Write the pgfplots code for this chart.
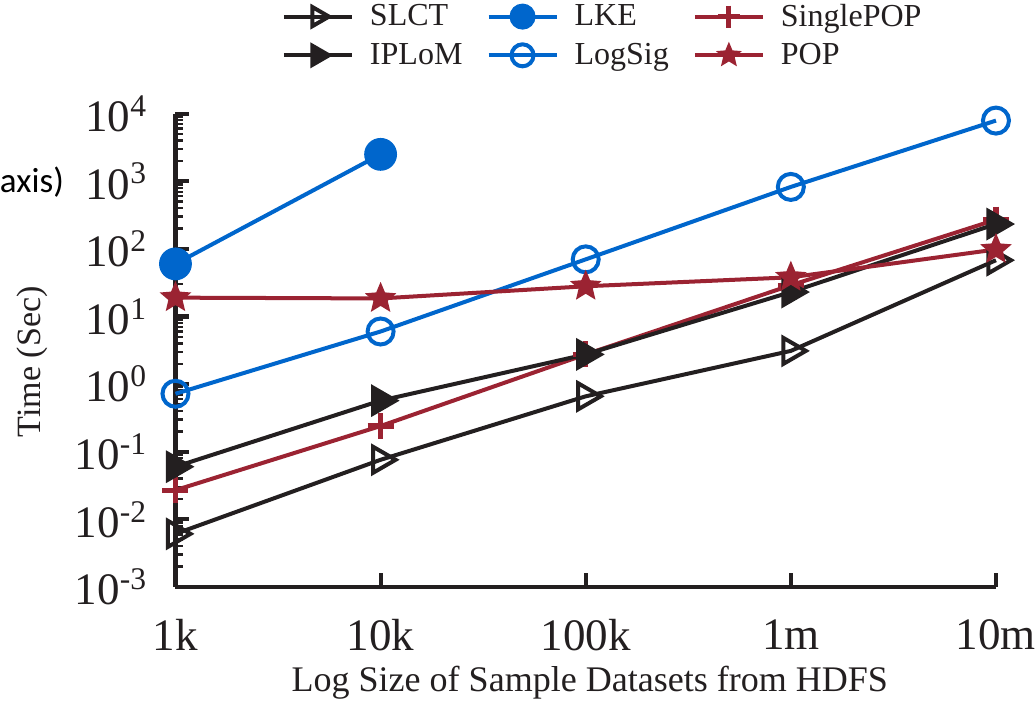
\documentclass[border=0pt]{standalone}
\usepackage{fontspec}
\setmainfont{Liberation Serif}
\newfontfamily\sansf{Carlito}
\usepackage{pgfplots}
\pgfplotsset{compat=1.18}
\definecolor{cblk}{RGB}{35,31,32}
\definecolor{cblue}{RGB}{0,102,204}
\definecolor{cred}{RGB}{155,35,50}

% filled five-point star
\pgfdeclareplotmark{fstar}{%
  \pgfpathmoveto{\pgfpointpolar{90}{\pgfplotmarksize}}%
  \pgfpathlineto{\pgfpointpolar{126}{0.45\pgfplotmarksize}}%
  \pgfpathlineto{\pgfpointpolar{162}{\pgfplotmarksize}}%
  \pgfpathlineto{\pgfpointpolar{198}{0.45\pgfplotmarksize}}%
  \pgfpathlineto{\pgfpointpolar{234}{\pgfplotmarksize}}%
  \pgfpathlineto{\pgfpointpolar{270}{0.45\pgfplotmarksize}}%
  \pgfpathlineto{\pgfpointpolar{306}{\pgfplotmarksize}}%
  \pgfpathlineto{\pgfpointpolar{342}{0.45\pgfplotmarksize}}%
  \pgfpathlineto{\pgfpointpolar{18}{\pgfplotmarksize}}%
  \pgfpathlineto{\pgfpointpolar{54}{0.45\pgfplotmarksize}}%
  \pgfpathclose
  \pgfusepathqfillstroke
}

\begin{document}
\begin{tikzpicture}
\begin{axis}[
  scale only axis,
  width=410pt, height=236.5pt,
  ymode=log,
  xmin=0, xmax=4, ymin=1e-3, ymax=1e4,
  clip=false,
  axis lines*=left,
  axis line style={line width=2.2pt,cblk},
  tick align=inside,
  xtick={0,1,2,3,4},
  xticklabels={1k,10k,100k,1m,10m},
  ytick={1e-3,1e-2,1e-1,1,10,100,1000,10000},
  yticklabels={10\textsuperscript{-3},10\textsuperscript{-2},10\textsuperscript{-1},10\textsuperscript{0},10\textsuperscript{1},10\textsuperscript{2},10\textsuperscript{3},10\textsuperscript{4}},
  minor ytick={0.002,0.003,0.004,0.005,0.006,0.007,0.008,0.009,
    0.02,0.03,0.04,0.05,0.06,0.07,0.08,0.09,
    0.2,0.3,0.4,0.5,0.6,0.7,0.8,0.9,
    2,3,4,5,6,7,8,9,
    20,30,40,50,60,70,80,90,
    200,300,400,500,600,700,800,900,
    2000,3000,4000,5000,6000,7000,8000,9000},
  major tick length=7pt, minor tick length=4pt,
  every major tick/.append style={line width=2pt,cblk},
  every minor tick/.append style={line width=1.2pt,cblk},
  tick label style={font=\fontsize{22.5}{26}\selectfont,text=cblk},
  x tick label style={inner sep=0pt,yshift=-16pt},
  y tick label style={inner sep=0pt,xshift=-14pt},
  xlabel={Log Size of Sample Datasets from HDFS},
  xlabel style={at={(axis description cs:0.505,0)},anchor=center,yshift=-48pt,font=\fontsize{18}{21}\selectfont,text=cblk},
  ylabel={Time (Sec)},
  ylabel style={at={(axis description cs:-0.1744,0.476)},anchor=center,font=\fontsize{17}{20}\selectfont,text=cblk},
  legend columns=3,
  legend cell align=left,
  legend style={draw=none, fill=none, inner sep=0pt,
    at={(axis description cs:0,1)}, anchor=north west, xshift=53pt, yshift=57pt,
    row sep=3pt,
    nodes={inner sep=2pt, text=cblk, font=\fontsize{16}{18}\selectfont},
    /tikz/every odd column/.append style={column sep=6pt},
    /tikz/every even column/.append style={column sep=10pt}},
  legend image code/.code={\draw[mark repeat=2,mark phase=2,mark size=5.5pt] plot coordinates {(0pt,0pt)(17pt,0pt)(34pt,0pt)};},
  every axis plot/.append style={line width=2pt},
]
\addplot[cblk, mark=triangle, mark size=7.5pt, mark options={rotate=-90,fill=white,solid}]
  coordinates {(0,0.0061) (1,0.076) (2,0.66) (3,3.1) (4,68)};
\addlegendentry{SLCT}
\addplot[cblue, mark=*, mark size=7.2pt, mark options={fill=cblue}]
  coordinates {(0,60) (1,2500)};
\addlegendentry{LKE}
\addplot[cred, mark=+, mark size=6.5pt, mark options={line width=2.6pt}]
  coordinates {(0,0.027) (1,0.24) (2,2.75) (3,29) (4,270)};
\addlegendentry{SinglePOP}
\addplot[cblk, mark=triangle*, mark size=7.5pt, mark options={rotate=-90,fill=cblk}]
  coordinates {(0,0.06) (1,0.57) (2,2.75) (3,23) (4,233)};
\addlegendentry{IPLoM}
\addplot[cblue, mark=o, mark size=6.5pt, mark options={fill=white}]
  coordinates {(0,0.72) (1,6.0) (2,70) (3,825) (4,7900)};
\addlegendentry{LogSig}
\addplot[cred, mark=fstar, mark size=7pt, mark options={fill=cred,line width=1pt}]
  coordinates {(0,19) (1,18.5) (2,28) (3,38) (4,98)};
\addlegendentry{POP}
\node[anchor=east, inner sep=0pt, font=\sansf\fontsize{17.5}{20}\selectfont, text=black]
  at (axis description cs:-0.1354,0.856) {axis)};
\end{axis}
\end{tikzpicture}
\end{document}
